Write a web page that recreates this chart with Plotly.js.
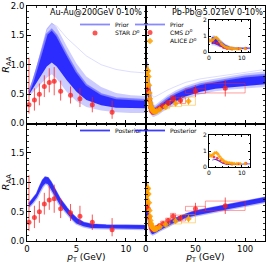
<!DOCTYPE html>
<html><head><meta charset="utf-8">
<script src="https://cdn.plot.ly/plotly-3.0.1.min.js"></script>
<style>html,body{margin:0;padding:0;background:#fff}#chart{width:266px;height:263px}</style>
</head><body><div id="chart"></div>
<script>
// ---------- Au-Au 200 GeV prior envelope ----------
const auPriorX       = [0.2, 0.6, 1.0, 1.5, 2.0, 2.5, 3.0, 4.0, 5.0, 6.0, 7.5, 9.0, 10.5, 12];
const auPriorOuterHi = [0.56,0.76,1.00,1.32,1.62,1.72,1.64,1.32,1.02,0.80,0.62,0.52,0.48,0.47];
const auPriorOuterLo = [0.46,0.53,0.60,0.68,0.78,0.84,0.76,0.54,0.38,0.28,0.22,0.19,0.18,0.18];
const auPriorCoreHi  = [0.54,0.72,0.94,1.24,1.52,1.60,1.50,1.18,0.88,0.66,0.50,0.43,0.41,0.40];
const auPriorCoreLo  = [0.49,0.59,0.69,0.83,0.97,1.04,0.97,0.74,0.54,0.40,0.31,0.27,0.26,0.26];
const auPriorOutlier = [0.52,0.72,0.96,1.30,1.60,1.70,1.66,1.46,1.30,1.15,1.00,0.92,0.88,0.86];

// ---------- Au-Au posterior ----------
const auPostX  = [0.2, 0.6, 1.0, 1.3, 1.6, 1.85, 2.1, 2.4, 2.8, 3.3, 4.0, 4.5, 5.0, 5.7, 6.5, 8, 10, 12];
const auPostHi = [0.63,0.71,0.80,0.92,1.03,1.08,1.07,1.00,0.87,0.72,0.56,0.46,0.38,0.31,0.28,0.265,0.26,0.255];
const auPostLo = [0.58,0.65,0.74,0.84,0.93,0.98,0.97,0.90,0.77,0.62,0.48,0.38,0.30,0.25,0.22,0.215,0.21,0.205];

// ---------- STAR D0 ----------
const starX     = [0.2, 0.75, 1.25, 1.75, 2.25, 2.75, 3.4, 4.4, 5.35, 6.6, 8.6];
const starY     = [0.32,0.40,0.50,0.63,0.70,0.72,0.55,0.48,0.42,0.32,0.19];
const starErrHi = [0.80,0.20,0.18,0.19,0.24,0.24,0.18,0.15,0.18,0.13,0.20];
const starErrLo = [0.15,0.18,0.19,0.18,0.17,0.24,0.16,0.14,0.14,0.13,0.11];

// ---------- Pb-Pb 5.02 TeV prior envelope ----------
const pbPriorX       = [0.8, 1.5, 2.5, 3.5, 5, 6.5, 8, 10, 13, 17, 22, 30, 40, 55, 70, 85, 100, 120];
const pbPriorOuterHi = [1.00,1.05,0.95,0.78,0.52,0.38,0.32,0.32,0.36,0.42,0.48,0.56,0.64,0.72,0.77,0.81,0.85,0.89];
const pbPriorOuterLo = [0.40,0.42,0.35,0.25,0.16,0.12,0.11,0.12,0.15,0.20,0.25,0.33,0.42,0.50,0.55,0.58,0.60,0.62];
const pbPriorCoreHi  = [0.90,0.95,0.85,0.68,0.45,0.32,0.27,0.27,0.31,0.37,0.43,0.51,0.59,0.67,0.72,0.76,0.80,0.83];
const pbPriorCoreLo  = [0.50,0.52,0.45,0.33,0.21,0.16,0.15,0.16,0.19,0.24,0.29,0.37,0.46,0.54,0.59,0.62,0.64,0.67];
const pbPriorOutlier = [1.00,1.05,0.95,0.75,0.55,0.47,0.45,0.46,0.49,0.53,0.57,0.63,0.70,0.76,0.80,0.83,0.87,0.92];

// ---------- Pb-Pb posterior ----------
const pbPostX  = [1, 1.5, 2, 2.5, 3, 4, 5, 6, 7, 8, 10, 13, 17, 22, 30, 40, 50, 65, 80, 100, 120];
const pbPostHi = [0.46,0.49,0.50,0.48,0.41,0.28,0.21,0.185,0.175,0.18,0.20,0.23,0.27,0.31,0.38,0.45,0.505,0.555,0.605,0.67,0.735];
const pbPostLo = [0.40,0.43,0.44,0.42,0.35,0.22,0.15,0.125,0.115,0.12,0.14,0.17,0.21,0.25,0.32,0.39,0.435,0.485,0.535,0.60,0.665];

// ---------- CMS D0 ----------
const cmsX    = [1.5, 2.5, 3.5, 4.5, 5.5, 7, 9, 11.25, 13.75, 17.5, 22.5, 27.5, 35, 50, 80];
const cmsXLo  = [1, 2, 3, 4, 5, 6, 8, 10, 12.5, 15, 20, 25, 30, 40, 60];
const cmsXHi  = [2, 3, 4, 5, 6, 8, 10, 12.5, 15, 20, 25, 30, 40, 60, 100];
const cmsY    = [0.62,0.55,0.40,0.28,0.22,0.19,0.20,0.23,0.26,0.30,0.35,0.42,0.39,0.55,0.60];
const cmsStat = [0.06,0.04,0.03,0.02,0.02,0.02,0.02,0.02,0.02,0.03,0.04,0.05,0.05,0.10,0.14];
const cmsSys  = [0.10,0.08,0.06,0.04,0.03,0.03,0.03,0.03,0.03,0.04,0.04,0.05,0.05,0.04,0.08];

// ---------- ALICE D0 ----------
const aliceX    = [0.25,0.75,1.25,1.75,2.25,2.75,3.25,3.75,4.25,4.75,5.25,5.75,6.25,6.75,7.25,7.75,8.5,9.5,11,14,20,30,43];
const aliceXLo  = [0,0.5,1,1.5,2,2.5,3,3.5,4,4.5,5,5.5,6,6.5,7,7.5,8,9,10,12,16,24,36];
const aliceXHi  = [0.5,1,1.5,2,2.5,3,3.5,4,4.5,5,5.5,6,6.5,7,7.5,8,9,10,12,16,24,36,50];
const aliceY    = [0.72,0.70,0.78,0.88,0.90,0.80,0.65,0.52,0.42,0.35,0.30,0.27,0.25,0.23,0.22,0.21,0.20,0.20,0.21,0.24,0.28,0.34,0.38];
const aliceStat = [0.15,0.08,0.06,0.05,0.05,0.04,0.04,0.03,0.03,0.02,0.02,0.02,0.02,0.02,0.02,0.02,0.02,0.02,0.02,0.02,0.03,0.04,0.06];
const aliceSys  = [0.12,0.10,0.09,0.09,0.09,0.08,0.07,0.05,0.04,0.04,0.03,0.03,0.03,0.03,0.03,0.03,0.03,0.03,0.03,0.03,0.03,0.05,0.07];

// ---------- labels ----------
const titleAu = 'Au-Au@200GeV 0-10%';
const titlePb = 'Pb-Pb@5.02TeV 0-10%';
const xTitle = '<i>p</i><sub>T</sub> (GeV)';
const yTitle = '<i>R</i><sub>AA</sub>';

// ---------- helpers ----------
const FONT = 'DejaVu Sans';
const W = 266, H = 263;
function poly(x, lo, hi) {
  return {x: x.concat(x.slice().reverse()), y: hi.concat(lo.slice().reverse())};
}
function boxes(xlo, xhi, y, s) {
  const X = [], Y = [];
  for (let i = 0; i < y.length; i++) {
    X.push(xlo[i], xhi[i], xhi[i], xlo[i], xlo[i], null);
    Y.push(y[i]-s[i], y[i]-s[i], y[i]+s[i], y[i]+s[i], y[i]-s[i], null);
  }
  return {x: X, y: Y};
}
function band(x, lo, hi, xa, ya, fill, line) {
  const p = poly(x, lo, hi);
  return {type:'scatter', mode:'lines', x:p.x, y:p.y, xaxis:xa, yaxis:ya, fill:'toself',
          fillcolor:fill, line:{width: line ? line.w : 0, color: line ? line.c : fill},
          showlegend:false, hoverinfo:'skip'};
}
function pts(x, y, eHi, eLo, xa, ya, color, symbol, size, name, legend) {
  const t = {type:'scatter', mode:'markers', x, y, xaxis:xa, yaxis:ya, name: name || 'data',
    marker:{color, symbol, size, line:{width:0}},
    error_y:{type:'data', symmetric: !eLo, array:eHi, arrayminus: eLo || eHi, color, thickness:1, width:0},
    showlegend: !!legend, hoverinfo:'skip'};
  if (legend) t.legend = legend;
  return t;
}
function boxTrace(xlo, xhi, y, s, xa, ya, color) {
  const b = boxes(xlo, xhi, y, s);
  return {type:'scatter', mode:'lines', x:b.x, y:b.y, xaxis:xa, yaxis:ya,
          line:{color, width:1}, showlegend:false, hoverinfo:'skip', connectgaps:false};
}
function legLine(x, y, xa, ya, color, name, legend) {
  return {type:'scatter', mode:'lines', x, y, xaxis:xa, yaxis:ya, name, legend,
          line:{color, width:1.8}, showlegend:true, hoverinfo:'skip'};
}

const RED = 'rgba(250,30,30,0.75)';
const ORANGE = 'rgba(255,160,0,0.85)';
const PRIOR_OUT = 'rgba(110,110,255,0.35)';
const PRIOR_CORE = 'rgba(15,15,255,0.85)';
const POST_FILL = 'rgba(25,25,245,0.9)';
const POST_EDGE = {w:2.5, c:'rgba(60,60,255,0.35)'};

const traces = [
  // Top-left: Au-Au prior
  band(auPriorX, auPriorOuterLo, auPriorOuterHi, 'x', 'y', PRIOR_OUT),
  band(auPriorX, auPriorCoreLo, auPriorCoreHi, 'x', 'y', PRIOR_CORE),
  {type:'scatter', mode:'lines', x:auPriorX, y:auPriorOutlier, xaxis:'x', yaxis:'y',
   line:{color:'rgba(100,100,255,0.22)', width:1}, showlegend:false, hoverinfo:'skip'},
  legLine(auPriorX, auPriorCoreHi, 'x', 'y', 'rgba(125,125,255,0.9)', 'Prior', 'legend'),
  pts(starX, starY, starErrHi, starErrLo, 'x', 'y', RED, 'circle', 5, 'STAR <i>D</i><sup>0</sup>', 'legend2'),

  // Top-right: Pb-Pb prior
  band(pbPriorX, pbPriorOuterLo, pbPriorOuterHi, 'x2', 'y2', PRIOR_OUT),
  band(pbPriorX, pbPriorCoreLo, pbPriorCoreHi, 'x2', 'y2', PRIOR_CORE),
  {type:'scatter', mode:'lines', x:pbPriorX, y:pbPriorOutlier, xaxis:'x2', yaxis:'y2',
   line:{color:'rgba(100,100,255,0.22)', width:1}, showlegend:false, hoverinfo:'skip'},
  legLine(pbPriorX, pbPriorCoreHi, 'x2', 'y2', 'rgba(125,125,255,0.9)', 'Prior', 'legend3'),
  boxTrace(cmsXLo, cmsXHi, cmsY, cmsSys, 'x2', 'y2', 'rgba(255,40,40,0.45)'),
  boxTrace(aliceXLo, aliceXHi, aliceY, aliceSys, 'x2', 'y2', 'rgba(255,170,0,0.45)'),
  pts(cmsX, cmsY, cmsStat, null, 'x2', 'y2', RED, 'circle', 5, 'CMS <i>D</i><sup>0</sup>', 'legend4'),
  pts(aliceX, aliceY, aliceStat, null, 'x2', 'y2', ORANGE, 'diamond', 5, 'ALICE <i>D</i><sup>0</sup>', 'legend5'),

  // Bottom-left: Au-Au posterior
  band(auPostX, auPostLo, auPostHi, 'x3', 'y3', POST_FILL, POST_EDGE),
  legLine(auPostX, auPostHi, 'x3', 'y3', 'rgba(40,40,255,0.9)', 'Posterior', 'legend6'),
  pts(starX, starY, starErrHi, starErrLo, 'x3', 'y3', RED, 'circle', 5),

  // Bottom-right: Pb-Pb posterior
  band(pbPostX, pbPostLo, pbPostHi, 'x4', 'y4', POST_FILL, POST_EDGE),
  legLine(pbPostX, pbPostHi, 'x4', 'y4', 'rgba(40,40,255,0.9)', 'Posterior', 'legend7'),
  boxTrace(cmsXLo, cmsXHi, cmsY, cmsSys, 'x4', 'y4', 'rgba(255,40,40,0.45)'),
  boxTrace(aliceXLo, aliceXHi, aliceY, aliceSys, 'x4', 'y4', 'rgba(255,170,0,0.45)'),
  pts(cmsX, cmsY, cmsStat, null, 'x4', 'y4', RED, 'circle', 5),
  pts(aliceX, aliceY, aliceStat, null, 'x4', 'y4', ORANGE, 'diamond', 5),

  // Inset top (prior, low pT)
  band(pbPriorX, pbPriorOuterLo, pbPriorOuterHi, 'x5', 'y5', PRIOR_OUT),
  band(pbPriorX, pbPriorCoreLo, pbPriorCoreHi, 'x5', 'y5', PRIOR_CORE),
  pts(cmsX, cmsY, cmsStat, null, 'x5', 'y5', RED, 'circle', 3),
  pts(aliceX, aliceY, aliceStat, null, 'x5', 'y5', ORANGE, 'diamond', 3),

  // Inset bottom (posterior, low pT)
  band(pbPostX, pbPostLo, pbPostHi, 'x6', 'y6', POST_FILL),
  pts(cmsX, cmsY, cmsStat, null, 'x6', 'y6', RED, 'circle', 3),
  pts(aliceX, aliceY, aliceStat, null, 'x6', 'y6', ORANGE, 'diamond', 3)
];

const tickFont = {family:FONT, size:8.5, color:'#000'};
function axis(domain, range, dtick, minor, opts) {
  return Object.assign({
    domain, range, dtick, tick0:0, autorange:false,
    showline:true, linecolor:'#000', linewidth:1, mirror:'allticks',
    ticks:'inside', ticklen:3.5, tickwidth:1, tickcolor:'#000',
    minor:{ticks:'inside', ticklen:2, dtick:minor, tickcolor:'#000', tickwidth:0.8},
    showgrid:false, zeroline:false, tickfont:tickFont, fixedrange:true
  }, opts || {});
}
const xL = [27/W, 145.75/W], xR = [145.75/W, 265/W];
const yT = [1-123.5/H, 1-6/H], yB = [1-241/H, 1-123.5/H];
const insX = [209/W, 250/W];
const insFont = {family:FONT, size:6, color:'#000'};

const layout = {
  width:W, height:H, margin:{l:0,r:0,t:0,b:0},
  paper_bgcolor:'#fff', plot_bgcolor:'#fff',
  font:{family:FONT, color:'#000'},
  xaxis:  axis(xL, [0,12], 5, 1, {anchor:'y', showticklabels:false}),
  yaxis:  axis(yT, [0,2], 0.5, 0.1, {anchor:'x', tickformat:'.1f',
           title:{text:yTitle, font:{family:FONT, size:9.5}, standoff:3}}),
  xaxis2: axis(xR, [0,120], 50, 10, {anchor:'y2', showticklabels:false}),
  yaxis2: axis(yT, [0,2], 0.5, 0.1, {anchor:'x2', showticklabels:false}),
  xaxis3: axis(xL, [0,12], 5, 1, {anchor:'y3',
           title:{text:xTitle, font:{family:FONT, size:9}, standoff:5}}),
  yaxis3: axis(yB, [0,2], 0.5, 0.1, {anchor:'x3', tickmode:'array', tickvals:[0,0.5,1,1.5],
           ticktext:['0.0','0.5','1.0','1.5'],
           title:{text:yTitle, font:{family:FONT, size:9.5}, standoff:3}}),
  xaxis4: axis(xR, [0,120], 50, 10, {anchor:'y4',
           title:{text:xTitle, font:{family:FONT, size:9}, standoff:5}}),
  yaxis4: axis(yB, [0,2], 0.5, 0.1, {anchor:'x4', showticklabels:false}),
  xaxis5: axis(insX, [0,12.5], 10, 2, {anchor:'y5', ticklen:2, minor:{ticks:'inside', ticklen:1, dtick:2, tickcolor:'#000'},
           tickfont:insFont, ticklabelstandoff:0}),
  yaxis5: axis([1-52/H, 1-20/H], [0,2], 1, 0.5, {anchor:'x5', ticklen:2, minor:{ticks:'inside', ticklen:1, dtick:0.5, tickcolor:'#000'},
           tickfont:insFont, ticklabelstandoff:0}),
  xaxis6: axis(insX, [0,12.5], 10, 2, {anchor:'y6', ticklen:2, minor:{ticks:'inside', ticklen:1, dtick:2, tickcolor:'#000'},
           tickfont:insFont, ticklabelstandoff:0}),
  yaxis6: axis([1-167/H, 1-135/H], [0,2], 1, 0.5, {anchor:'x6', ticklen:2, minor:{ticks:'inside', ticklen:1, dtick:0.5, tickcolor:'#000'},
           tickfont:insFont, ticklabelstandoff:0}),
  annotations:[
    {text:titleAu, xref:'paper', yref:'paper', x:143.5/W, y:1-12.5/H, xanchor:'right', yanchor:'middle',
     showarrow:false, font:{family:FONT, size:8, color:'#000'}},
    {text:titlePb, xref:'paper', yref:'paper', x:264.5/W, y:1-12.5/H, xanchor:'right', yanchor:'middle',
     showarrow:false, font:{family:FONT, size:8, color:'#000'}}
  ],
  showlegend:true
};
function leg(px, py) {
  return {x:px/W, y:1-py/H, xanchor:'left', yanchor:'middle', bgcolor:'rgba(0,0,0,0)',
          borderwidth:0, font:{family:FONT, size:6, color:'#000'}, tracegroupgap:0,
          itemclick:false, itemdoubleclick:false};
}
layout.legend  = leg(75, 24.5);
layout.legend2 = leg(75, 33);
layout.legend3 = leg(130, 24.5);
layout.legend4 = leg(130, 32.5);
layout.legend5 = leg(130, 41);
layout.legend6 = leg(75, 130.5);
layout.legend7 = leg(130, 130.5);

Plotly.newPlot('chart', traces, layout, {staticPlot:true, displayModeBar:false});
</script>
</body></html>
